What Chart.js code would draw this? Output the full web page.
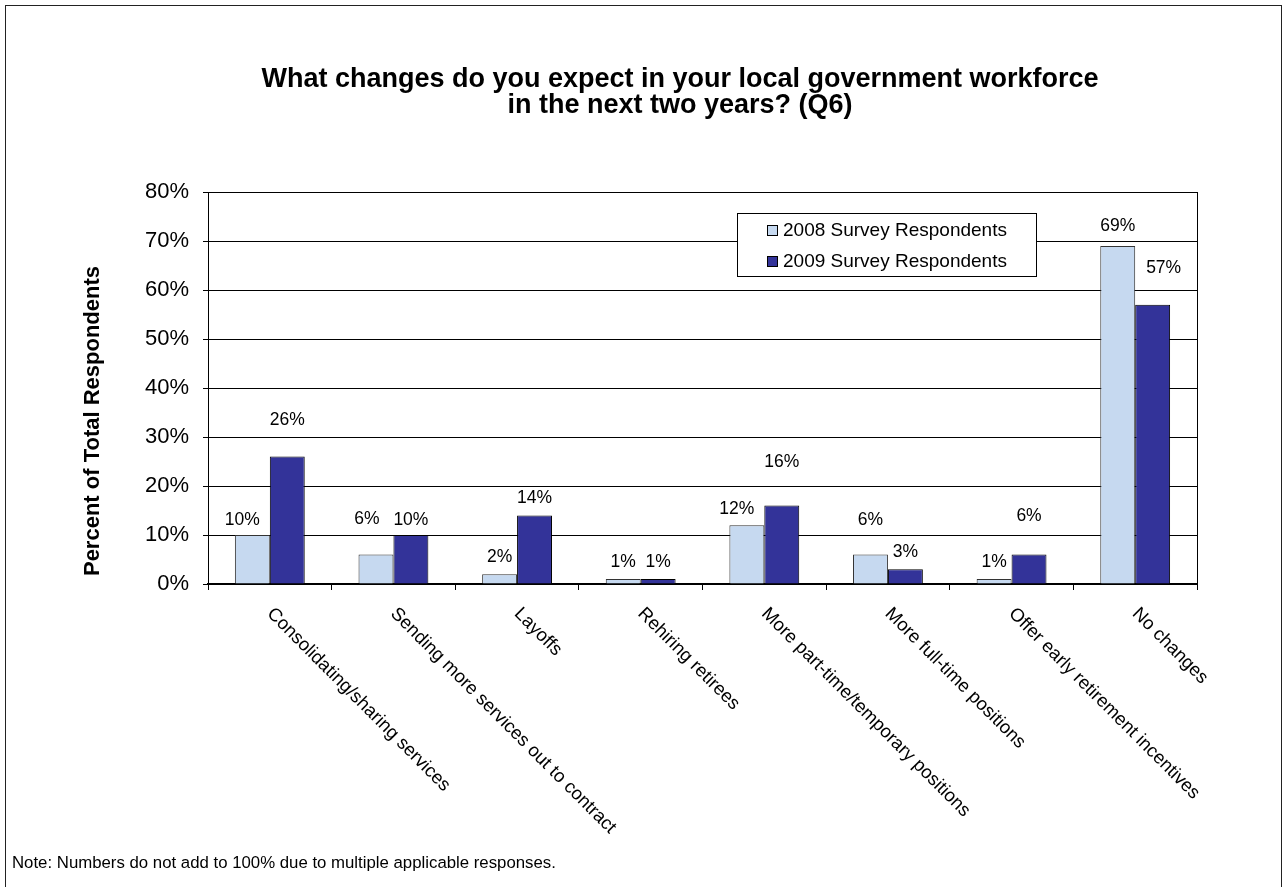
<!DOCTYPE html>
<html lang="en">
<head>
  <meta charset="UTF-8">
  <title>Workforce changes (Q6)</title>
  <script src="https://cdn.jsdelivr.net/npm/chart.js@4.4.0/dist/chart.umd.min.js"></script>
  <style>
    html, body {
      margin: 0;
      padding: 0;
      background: #fff;
      overflow: hidden;
    }
    #frame {
      position: absolute;
      left: 5px;
      top: 5px;
      width: 1275px;
      height: 900px;
      border: 1px solid #222;
    }
    #wrap {
      position: absolute;
      left: 0;
      top: 0;
      width: 1284px;
      height: 887px;
    }
  </style>
</head>
<body>
  <div id="frame"></div>
  <div id="wrap"><canvas id="chart" width="1284" height="887"></canvas></div>
  <script>
    const categories = [
      'Consolidating/sharing services',
      'Sending more services out to contract',
      'Layoffs',
      'Rehiring retirees',
      'More part-time/temporary positions',
      'More full-time positions',
      'Offer early retirement incentives',
      'No changes'
    ];
    const seriesNames = ['2008 Survey Respondents', '2009 Survey Respondents'];
    const values2008 = [10, 6, 2, 1, 12, 6, 1, 69];
    const values2009 = [26, 10, 14, 1, 16, 3, 6, 57];
    const yTicks = [0, 10, 20, 30, 40, 50, 60, 70, 80];

    const titleLines = [
      'What changes do you expect in your local government workforce',
      'in the next two years? (Q6)'
    ];
    const yTitle = 'Percent of Total Respondents';
    const note = 'Note: Numbers do not add to 100% due to multiple applicable responses.';

    const FONT = '"Liberation Sans", Arial, sans-serif';
    const LIGHT = 'rgb(198, 217, 240)';
    const DARK = 'rgb(51, 51, 153)';

    // value labels sit 17px above the bar; a few are nudged [dx, dy] so they don't crowd
    const labelNudge = [
      [[-10, 2], [-9, -18], [0, 0], [0, 0], [-10, 1], [0, -17], [0, 0], [0, -3]],
      [[0, -19], [0, 2], [0, 0], [0, 0], [0, -26], [0, 0], [0, -21], [11, -20]]
    ];

    const barLabels = {
      id: 'barLabels',
      afterDatasetsDraw(chart) {
        const ctx = chart.ctx;
        ctx.save();
        ctx.font = '17.5px ' + FONT;
        ctx.fillStyle = '#000';
        ctx.textAlign = 'center';
        ctx.textBaseline = 'middle';
        chart.data.datasets.forEach((ds, i) => {
          chart.getDatasetMeta(i).data.forEach((bar, j) => {
            const [dx, dy] = labelNudge[i][j];
            ctx.fillText(ds.data[j] + '%', bar.x + dx, bar.y - 17 + dy);
          });
        });
        ctx.restore();
      }
    };

    const decor = {
      id: 'decor',
      afterDraw(chart) {
        const { ctx, chartArea: a, scales: { x } } = chart;
        ctx.save();

        // right edge of the plot area
        ctx.strokeStyle = '#000';
        ctx.lineWidth = 1;
        ctx.beginPath();
        ctx.moveTo(a.right + 0.5, a.top);
        ctx.lineTo(a.right + 0.5, a.bottom);
        ctx.stroke();

        ctx.fillStyle = '#000';
        ctx.textAlign = 'center';
        ctx.textBaseline = 'middle';

        // title
        ctx.font = 'bold 27px ' + FONT;
        titleLines.forEach((t, i) => ctx.fillText(t, 680, 80 + i * 26));

        // y axis title
        ctx.save();
        ctx.translate(93, 421);
        ctx.rotate(-Math.PI / 2);
        ctx.font = 'bold 22px ' + FONT;
        ctx.fillText(yTitle, 0, 0);
        ctx.restore();

        // slanted category labels hanging from each tick
        ctx.font = '18.5px ' + FONT;
        ctx.textAlign = 'left';
        categories.forEach((c, i) => {
          ctx.save();
          ctx.translate(x.getPixelForValue(i), a.bottom + 27);
          ctx.rotate(Math.PI / 4);
          ctx.fillText(c, 0, 0);
          ctx.restore();
        });

        // legend box
        ctx.fillStyle = '#fff';
        ctx.fillRect(737.5, 213.5, 299, 63);
        ctx.strokeStyle = '#000';
        ctx.strokeRect(737.5, 213.5, 299, 63);
        ctx.font = '19px ' + FONT;
        chart.data.datasets.forEach((ds, i) => {
          const cy = 231 + i * 31;
          ctx.fillStyle = ds.backgroundColor;
          ctx.fillRect(767.5, cy - 5.5, 10, 10);
          ctx.strokeStyle = '#000';
          ctx.strokeRect(767.5, cy - 5.5, 10, 10);
          ctx.fillStyle = '#000';
          ctx.fillText(ds.label, 783, cy);
        });

        // footnote
        ctx.font = '16.8px ' + FONT;
        ctx.fillText(note, 12, 863);

        ctx.restore();
      }
    };

    new Chart(document.getElementById('chart'), {
      type: 'bar',
      data: {
        labels: categories,
        datasets: [
          {
            label: seriesNames[0],
            data: values2008,
            backgroundColor: LIGHT,
            borderColor: '#333',
            borderWidth: 1
          },
          {
            label: seriesNames[1],
            data: values2009,
            backgroundColor: DARK,
            borderColor: '#000',
            borderWidth: 1
          }
        ]
      },
      options: {
        responsive: false,
        animation: false,
        layout: { padding: { top: 192, right: 87, bottom: 0, left: 0 } },
        datasets: {
          bar: { categoryPercentage: 0.565, barPercentage: 1 }
        },
        plugins: {
          legend: { display: false },
          title: { display: false },
          tooltip: { enabled: false }
        },
        scales: {
          x: {
            grid: {
              offset: true,
              drawOnChartArea: false,
              drawTicks: true,
              tickLength: 6,
              color: '#000'
            },
            border: { color: '#000', width: 2 },
            ticks: { display: false },
            afterFit(s) { s.height = 303; }
          },
          y: {
            min: 0,
            max: 80,
            afterBuildTicks(s) { s.ticks = yTicks.map(v => ({ value: v })); },
            ticks: {
              callback: v => v + '%',
              font: { family: FONT, size: 22 },
              color: '#000',
              padding: 14
            },
            grid: { color: '#000', tickLength: 5 },
            border: { color: '#000', width: 1 },
            afterFit(s) { s.width = 208; }
          }
        }
      },
      plugins: [barLabels, decor]
    });
  </script>
</body>
</html>
